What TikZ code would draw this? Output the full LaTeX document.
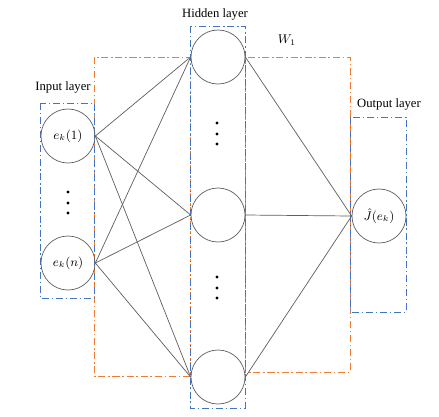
\documentclass[tikz,border=0pt]{standalone}
\usepackage{fontspec}
\setmainfont{Liberation Serif}
\usepackage{amsmath}
\usetikzlibrary{positioning,calc}
\definecolor{layerblue}{RGB}{68,114,196}
\definecolor{weightorange}{RGB}{237,125,49}
\definecolor{edgegray}{RGB}{95,95,95}
\tikzset{
  neuron/.style={draw=edgegray,circle,minimum size=1.35cm,inner sep=0pt,line width=0.5pt,font=\small},
  layerbox/.style={draw=layerblue,line width=0.6pt,dash pattern=on 5pt off 2pt on 1pt off 2pt},
  wbox/.style={draw=weightorange,line width=0.6pt,dash pattern=on 5pt off 2pt on 1pt off 2pt},
  conn/.style={draw=edgegray,line width=0.5pt},
  lbl/.style={font=\small,inner sep=1pt},
}
\begin{document}
\begin{tikzpicture}[x=0.025cm,y=-0.025cm]
\useasboundingbox[fill=white] (0,0) rectangle (439,416);
% weight regions
\draw[wbox] (94,57) rectangle (190,376);
\draw[wbox] (245,57) rectangle (350,372);
% layer boxes
\draw[layerbox] (40,103) rectangle (94,298);
\draw[layerbox] (190,26) rectangle (245,408);
\draw[layerbox] (350,117) rectangle (406,312);
% neurons
\node[neuron] (in1) at (68,136) {$e_k(1)$};
\node[neuron] (inn) at (68,263) {$e_k(n)$};
\node[neuron] (h1) at (218,57) {};
\node[neuron] (h2) at (218,215) {};
\node[neuron] (h3) at (218,377) {};
\node[neuron] (out) at (379,216) {$\hat{J}(e_k)$};
% dots
\foreach \y in {192,203,213} \fill (68,\y) circle (1.6);
\foreach \y in {123,134,144,277,288,298} \fill (217,\y) circle (1.6);
% labels
\node[lbl] (inlbl) at (63,87) {Input layer};
\node[lbl] (hidlbl) at (215,14) {Hidden layer};
\node[lbl] (outlbl) at (389,104) {Output layer};
\node[lbl] (wlbl) at (287,40) {$W_1$};
% connections
\foreach \i in {in1,inn}
  \foreach \h in {h1,h2,h3}
    \draw[conn] (\i.east) -- (\h.west);
\foreach \h in {h1,h2,h3}
  \draw[conn] (\h.east) -- (out.west);
\end{tikzpicture}
\end{document}
